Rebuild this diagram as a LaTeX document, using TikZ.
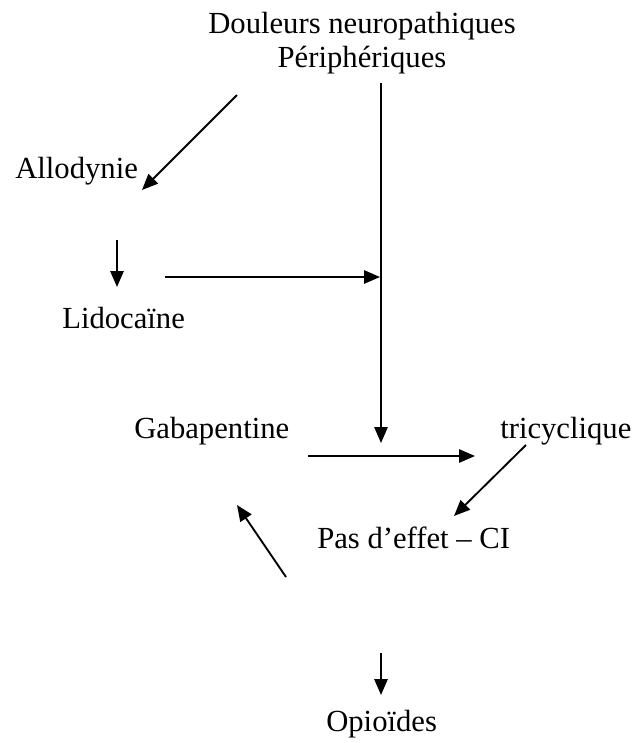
\documentclass[tikz,border=0pt]{standalone}
\usepackage{fontspec}
\setmainfont{Liberation Serif}
\usetikzlibrary{arrows.meta}
\begin{document}
\begin{tikzpicture}[x=0.75pt,y=-0.75pt,
  label/.style={inner sep=0pt,anchor=base west,font=\fontsize{23}{25.5}\selectfont},
  title/.style={inner sep=0pt,anchor=base,font=\fontsize{23}{25.5}\selectfont},
  flow/.style={line width=1.4pt,-{Triangle[length=12pt,width=10pt]}}]
\useasboundingbox (0,0) rectangle (642,743);

% texts
\node[title] (dnp)  at (362,33) {Douleurs neuropathiques};
\node[title] (peri) at (362,67) {Périphériques};
\node[label] (allo) at (15,178) {Allodynie};
\node[label] (lido) at (62,328) {Lidocaïne};
\node[label] (gaba) at (134,438) {Gabapentine};
\node[label] (tric) at (500,438) {tricyclique};
\node[label] (pas)  at (317,548) {Pas d’effet – CI};
\node[label] (opio) at (326,731) {Opioïdes};

% arrow end points
\coordinate (a1) at (237,95);  \coordinate (b1) at (142,190);
\coordinate (a2) at (117,240); \coordinate (b2) at (117,287);
\coordinate (a3) at (165,277); \coordinate (b3) at (380,277);
\coordinate (a4) at (381,83);  \coordinate (b4) at (381,443);
\coordinate (a5) at (308,456); \coordinate (b5) at (475,456);
\coordinate (a6) at (526,445); \coordinate (b6) at (454,516);
\coordinate (a7) at (286,577); \coordinate (b7) at (237,505);
\coordinate (a8) at (381,653); \coordinate (b8) at (381,695);

% connectors
\draw[flow] (a1) -- (b1);
\draw[flow] (a2) -- (b2);
\draw[flow] (a3) -- (b3);
\draw[flow] (a4) -- (b4);
\draw[flow] (a5) -- (b5);
\draw[flow] (a6) -- (b6);
\draw[flow] (a7) -- (b7);
\draw[flow] (a8) -- (b8);
\end{tikzpicture}
\end{document}
